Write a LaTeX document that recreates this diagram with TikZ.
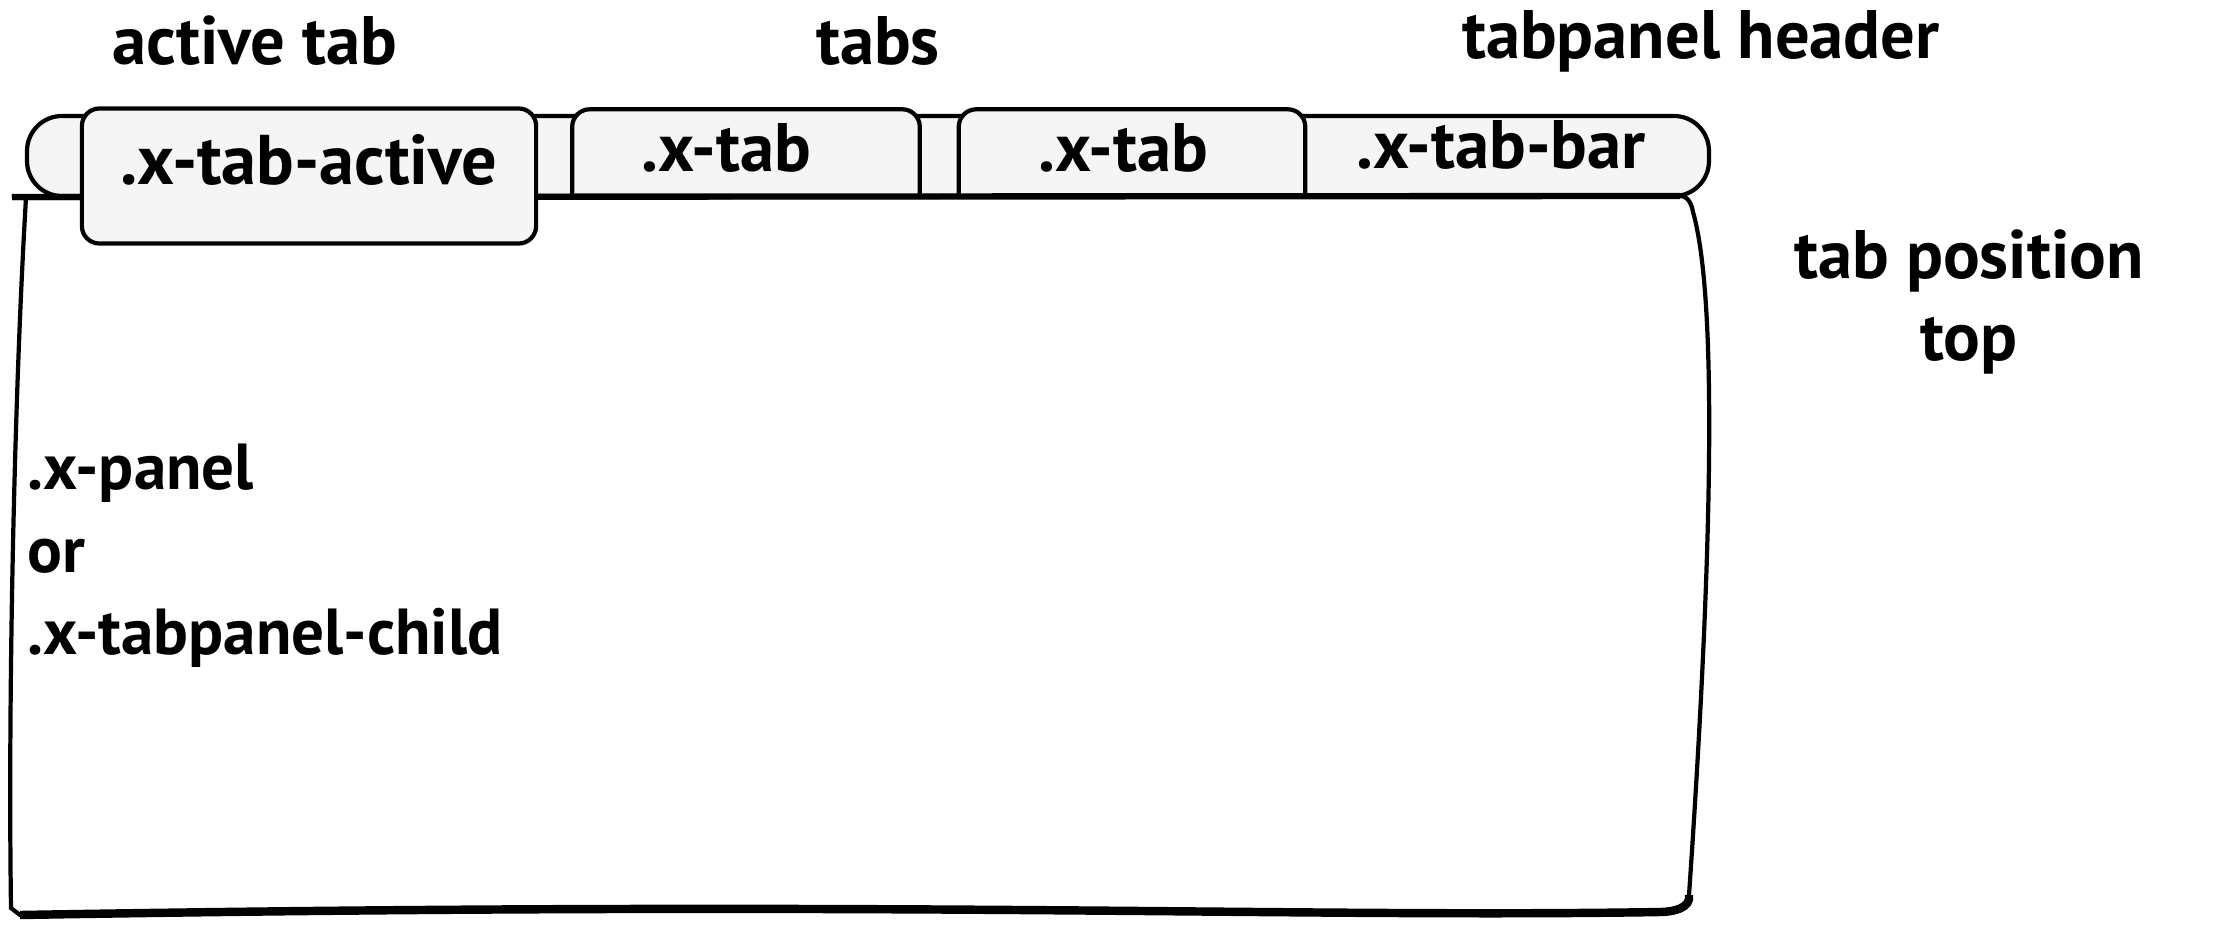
\documentclass[tikz,border=0pt]{standalone}
\usepackage{fontspec}
\setmainfont{PT Sans}
\usepackage{tikz}

\definecolor{tabfill}{HTML}{F5F5F5}

\begin{document}
\begin{tikzpicture}[x=0.01cm, y=-0.01cm,
	txt/.style={font=\fontsize{19.5}{23.5}\selectfont\bfseries},
	outline/.style={draw=black, line width=1.2pt},
	tabbox/.style={shape=rectangle, inner xsep=0pt, inner ysep=0.1cm, text height=0.56cm, text depth=0.1cm, txt}]

	\useasboundingbox (0,0) rectangle (2224,924);

	% header bar
	\node[shape=rectangle, outline, fill=tabfill, rounded corners=0.35cm, minimum width=16.81cm, minimum height=0.8cm] (bar) at (868, 156) {};
	\node[txt] (bartext) at (1501, 145) {.x-tab-bar};

	% tabs
	\node[tabbox, minimum width=3.46cm] (tab1) at (746, 153) {};
	\node[tabbox, minimum width=3.45cm] (tab2) at (1132, 153) {};
	\foreach \t in {tab1, tab2}
		\path[outline, fill=tabfill, rounded corners=5pt] (\t.south west) -- (\t.north west) -- (\t.north east) -- (\t.south east);
	\node[txt] (tab1text) at (726, 148) {.x-tab};
	\node[txt] (tab2text) at (1123, 148) {.x-tab};

	% panel
	\draw[outline, fill=white] (12,198) -- (1680,196) to[out=0,in=100] (1693,212) .. controls (1718,300) and (1712,560) .. (1689,895) to[out=-80,in=0] (1660,912) .. controls (1300,918) and (900,900) .. (20,915) -- (11,908) .. controls (8,700) and (14,400) .. (26,198);
	\draw[line width=1.8pt] (12,197) -- (1680,196);
	\draw[line width=2.4pt] (1689,895) to[out=-80,in=0] (1660,912) .. controls (1300,918) and (900,900) .. (20,915);
	\node[txt, anchor=west, align=left, inner xsep=0pt, font=\fontsize{18.5}{23.5}\selectfont\bfseries] (panel) at (27, 556) {.x-panel\\or\\.x-tabpanel-child};

	% active tab
	\node[tabbox, outline, fill=tabfill, rounded corners=5pt, minimum width=4.54cm, text height=0.66cm, text depth=0.49cm, font=\fontsize{20}{24}\selectfont\bfseries] (active) at (309, 176) {.x-tab-active};

	% labels
	\node[txt] (activelabel) at (255, 41) {active tab};
	\node[txt] (tabslabel) at (878, 41) {tabs};
	\node[txt] (headerlabel) at (1701, 41) {tabpanel header};
	\node[txt, align=center] (poslabel) at (1969, 302) {tab position\\top};

\end{tikzpicture}
\end{document}
